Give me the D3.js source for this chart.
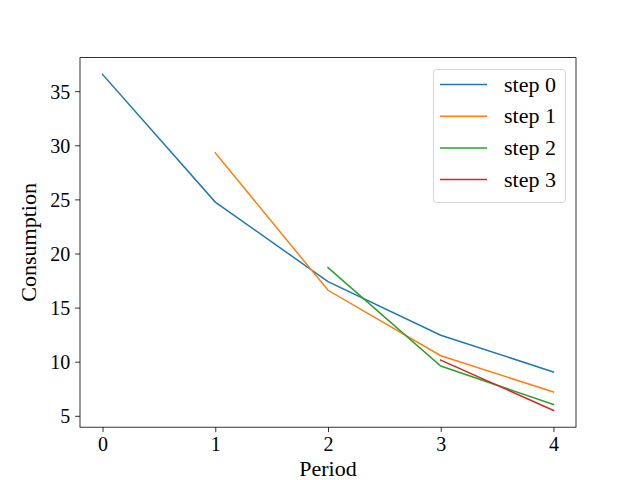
<!DOCTYPE html>
<html><head><meta charset="utf-8">
<script src="https://cdn.jsdelivr.net/npm/d3@7"></script>
<style>body{margin:0;background:#fff}svg{display:block}text{font-family:"Liberation Serif","Times New Roman",serif}</style>
</head><body>
<script>
const seriesNames = ["step 0","step 1","step 2","step 3"];
const colors = ["#1f77b4","#ff7f0e","#2ca02c","#d62728"];
const step0 = [{x:0,y:36.55},{x:1,y:24.75},{x:2,y:17.4},{x:3,y:12.45},{x:4,y:9.05}];
const step1 = [{x:1,y:29.3},{x:2,y:16.6},{x:3,y:10.55},{x:4,y:7.2}];
const step2 = [{x:2,y:18.7},{x:3,y:9.6},{x:4,y:6.05}];
const step3 = [{x:3,y:10.15},{x:4,y:5.5}];
const xTicks = [0,1,2,3,4];
const yTicks = [5,10,15,20,25,30,35];
const allSeries = [step0,step1,step2,step3];

const W=640,H=480, L=80, R=576, T=57.6, B=427.2;
const svg = d3.select("body").append("svg").attr("width",W).attr("height",H);
const all = allSeries.flat();
const xmin=d3.min(all,d=>d.x), xmax=d3.max(all,d=>d.x);
const ymin=d3.min(all,d=>d.y), ymax=d3.max(all,d=>d.y);
const xm=(xmax-xmin)*0.05, ym=(ymax-ymin)*0.05;
const x = d3.scaleLinear().domain([xmin-xm,xmax+xm]).range([L,R]);
const y = d3.scaleLinear().domain([ymin-ym,ymax+ym]).range([B,T]);

const line = d3.line().x(d=>x(d.x)).y(d=>y(d.y));
allSeries.forEach((s,i)=>{
  svg.append("path").datum(s).attr("d",line).attr("fill","none")
    .attr("stroke",colors[i]).attr("stroke-width",1.5).attr("stroke-linecap","square");
});

const fs=20;
const xAxis = svg.append("g").attr("transform",`translate(0,${B})`)
  .call(d3.axisBottom(x).tickValues(xTicks).tickSize(4.9).tickPadding(4.9).tickFormat(d3.format("d")));
const yAxis = svg.append("g").attr("transform",`translate(${L},0)`)
  .call(d3.axisLeft(y).tickValues(yTicks).tickSize(4.9).tickPadding(4.9).tickFormat(d3.format("d")));
[xAxis,yAxis].forEach(g=>{
  g.attr("font-family",null).attr("font-size",null);
  g.select(".domain").remove();
  g.selectAll(".tick line").attr("stroke","#000").attr("stroke-width",0.8);
  g.selectAll(".tick text").attr("fill","#000").style("font-size",fs+"px").style("font-family","Liberation Serif");
});
xAxis.selectAll(".tick text").attr("dy","0.72em");
yAxis.selectAll(".tick text").attr("dy","0.35em");

svg.append("rect").attr("x",L).attr("y",T).attr("width",R-L).attr("height",B-T)
  .attr("fill","none").attr("stroke","#000").attr("stroke-width",0.8);

svg.append("text").attr("x",(L+R)/2).attr("y",476).attr("text-anchor","middle")
  .style("font-size","22px").text("Period");
svg.append("text").attr("transform",`translate(36,${(T+B)/2}) rotate(-90)`).attr("text-anchor","middle")
  .style("font-size","22px").text("Consumption");

// legend
const lg = svg.append("g");
lg.append("rect").attr("x",433.5).attr("y",69.5).attr("width",132).attr("height",133).attr("rx",3)
  .attr("fill","#fff").attr("fill-opacity",0.8).attr("stroke","#ccc").attr("stroke-width",0.8);
seriesNames.forEach((n,i)=>{
  const yy = 84.5 + i*31.7;
  lg.append("line").attr("x1",440).attr("x2",487).attr("y1",yy).attr("y2",yy)
    .attr("stroke",colors[i]).attr("stroke-width",1.5);
  lg.append("text").attr("x",504).attr("y",yy).attr("dy","0.33em").style("font-size","22px").text(n);
});
</script>
</body></html>
